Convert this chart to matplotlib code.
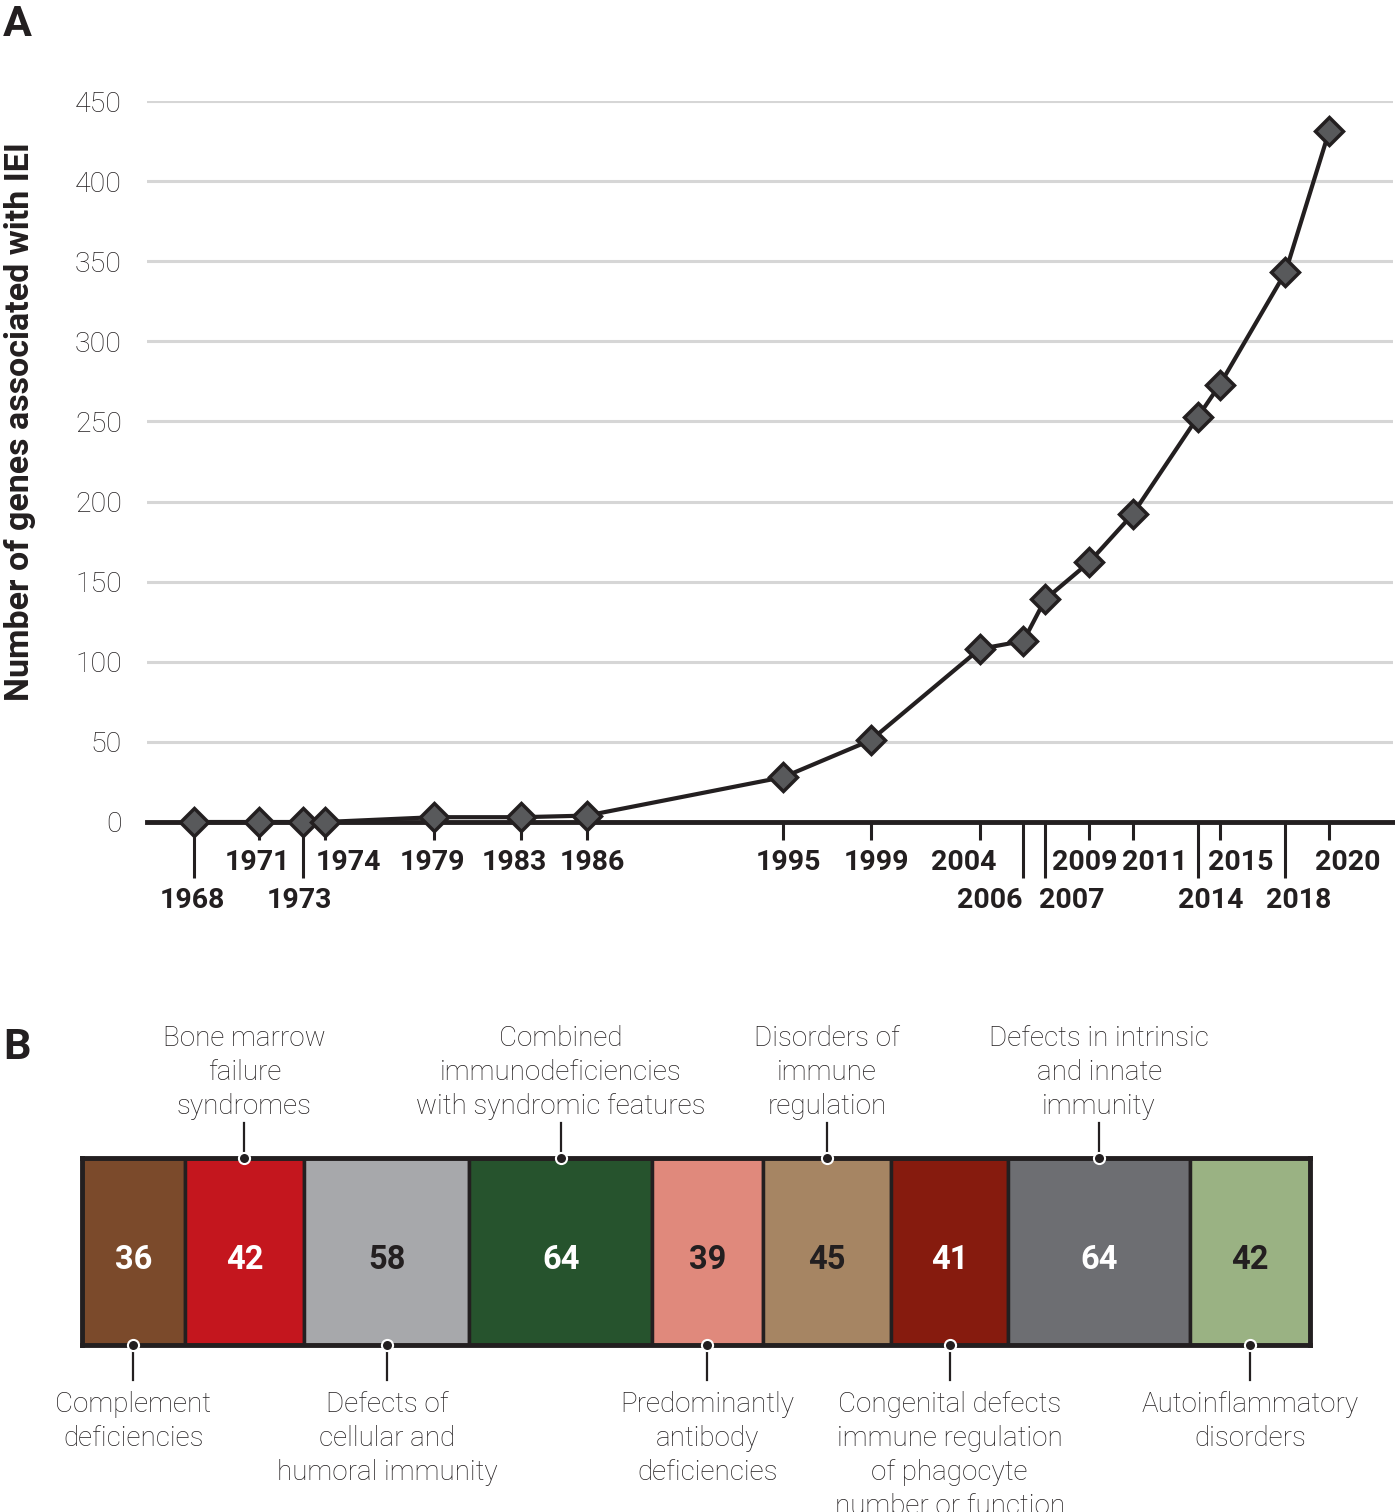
import matplotlib
matplotlib.use('Agg')
import matplotlib.pyplot as plt
import numpy as np

plt.rcParams['font.family'] = ['Roboto', 'DejaVu Sans']

# ---------------- data ----------------
years = [1968, 1971, 1973, 1974, 1979, 1983, 1986, 1995, 1999, 2004,
         2006, 2007, 2009, 2011, 2014, 2015, 2018, 2020]
genes = [0, 0, 0, 0, 3, 3, 4, 28, 51, 108,
         113, 139, 162, 192, 253, 273, 343, 431]
yticks = [0, 50, 100, 150, 200, 250, 300, 350, 400, 450]
# tick label row (1 = upper, 2 = lower) and horizontal nudge (px)
label_row = [2, 1, 2, 1, 1, 1, 1, 1, 1, 1, 2, 2, 1, 1, 2, 1, 2, 1]
label_dx = [-2, -2, -4, 24, -2, -7, 6, 5, 6, -16, -34, 26, -4, 22, 13, 21, 13, 19]

categories = ["Complement\ndeficiencies",
              "Bone marrow\nfailure\nsyndromes",
              "Defects of\ncellular and\nhumoral immunity",
              "Combined\nimmunodeficiencies\nwith syndromic features",
              "Predominantly\nantibody\ndeficiencies",
              "Disorders of\nimmune\nregulation",
              "Congenital defects\nimmune regulation\nof phagocyte\nnumber or function",
              "Defects in intrinsic\nand innate\nimmunity",
              "Autoinflammatory\ndisorders"]
counts = [36, 42, 58, 64, 39, 45, 41, 64, 42]
colors = ['#7b4a2b', '#c4161e', '#a7a8ab', '#26532d', '#e0897c',
          '#a68563', '#861b0e', '#6d6e72', '#9ab283']
num_colors = ['white', 'white', '#231f20', 'white', '#231f20',
              '#231f20', 'white', 'white', '#231f20']
label_side = ['below', 'above', 'below', 'above', 'below',
              'above', 'below', 'above', 'below']

INK = '#231f20'
W, H = 1395, 1512
fig = plt.figure(figsize=(W / 100, H / 100), dpi=100)


def px_axes(l, t, r, b):
    return fig.add_axes([l / W, 1 - b / H, (r - l) / W, (b - t) / H])


# ---------------- panel A ----------------
axA = px_axes(147, 101, 1393, 822)
axA.set_xlim(1965.85, 2022.93)
axA.set_ylim(0, 450)
for s in ['left', 'top', 'right']:
    axA.spines[s].set_visible(False)
axA.spines['bottom'].set_linewidth(3.5)
axA.spines['bottom'].set_color(INK)
axA.spines['bottom'].set_zorder(4)

axA.set_yticks(yticks)
axA.set_yticklabels([str(v) for v in yticks], fontweight='light')
axA.yaxis.grid(True, color='#d6d6d6', linewidth=2.2)
axA.set_axisbelow(True)
axA.tick_params(axis='y', length=0, pad=18, labelsize=20.5, labelcolor=INK)

short_years = [y for y, r in zip(years, label_row) if r == 1]
long_years = [y for y, r in zip(years, label_row) if r == 2]
axA.set_xticks(short_years)
axA.set_xticks(long_years, minor=True)
axA.tick_params(axis='x', which='major', direction='out', length=13, width=2.2,
                color=INK, labelbottom=False)
axA.tick_params(axis='x', which='minor', direction='out', length=40, width=2.2,
                color=INK, labelbottom=False)

axA.plot(years, genes, color=INK, lw=3, marker='D', ms=14,
         mfc='#58595b', mec=INK, mew=2.5, clip_on=False, zorder=5)

for y, r, dx in zip(years, label_row, label_dx):
    dy = 38 if r == 1 else 75.5
    axA.annotate(str(y), xy=(y, 0), xycoords='data', xytext=(dx, -dy),
                 textcoords='offset pixels', ha='center', va='center_baseline',
                 fontsize=20.5, fontweight='bold', color=INK, annotation_clip=False)

fig.text(20 / W, 1 - 422 / H, 'Number of genes associated with IEI', rotation=90,
         ha='center', va='center', fontsize=24.5, fontweight='bold', color=INK)
fig.text(3 / W, 1 - 4 / H, 'A', fontsize=31, fontweight='bold', va='top', ha='left', color=INK)
fig.text(3 / W, 1 - 1027 / H, 'B', fontsize=31, fontweight='bold', va='top', ha='left', color=INK)

# ---------------- panel B ----------------
axB = px_axes(82, 1158, 1310, 1345)
total = sum(counts)
lefts = np.concatenate([[0], np.cumsum(counts)[:-1]])
axB.barh(0.5, counts, left=lefts, height=1, color=colors, edgecolor=INK, linewidth=2.5)
axB.set_xlim(0, total)
axB.set_ylim(0, 1)
axB.set_xticks([])
axB.set_yticks([])
for s in axB.spines.values():
    s.set_linewidth(3.5)
    s.set_color(INK)
    s.set_zorder(5)

bar_h = 1345 - 1158
for lft, c, name, side, nc in zip(lefts, counts, categories, label_side, num_colors):
    cx = lft + c / 2
    axB.text(cx, (1345 - 1256.5) / bar_h, str(c), ha='center', va='center_baseline',
             fontsize=23.5, fontweight='bold', color=nc)
    if side == 'above':
        axB.plot([cx, cx], [1, 1 + 35 / bar_h], color=INK, lw=1.6, clip_on=False, zorder=6)
        axB.plot([cx], [1], marker='o', ms=8, mfc=INK, mec='white', mew=1.5,
                 clip_on=False, zorder=7)
        axB.text(cx, 1 + (1158 - 1025) / bar_h, name, ha='center', va='top',
                 fontsize=20, fontweight='light', color=INK, linespacing=1.34,
                 multialignment='center')
    else:
        axB.plot([cx, cx], [0, -35 / bar_h], color=INK, lw=1.6, clip_on=False, zorder=6)
        axB.plot([cx], [0], marker='o', ms=8, mfc=INK, mec='white', mew=1.5,
                 clip_on=False, zorder=7)
        axB.text(cx, -(1391 - 1345) / bar_h, name, ha='center', va='top',
                 fontsize=20, fontweight='light', color=INK, linespacing=1.34,
                 multialignment='center')

fig.savefig('out.png', dpi=100)
